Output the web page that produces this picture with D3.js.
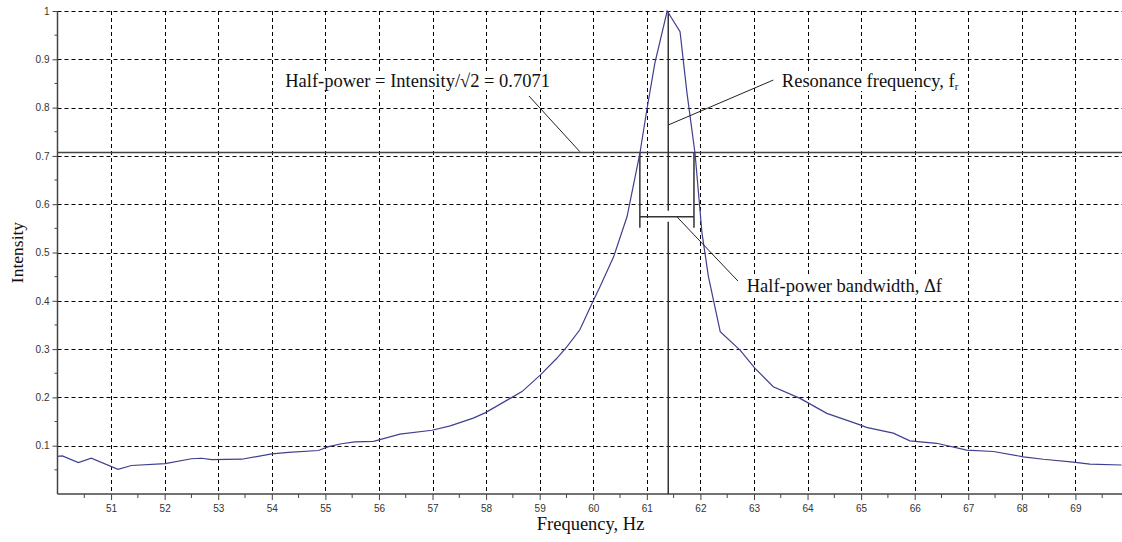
<!DOCTYPE html>
<html>
<head>
<meta charset="utf-8">
<script src="https://cdn.jsdelivr.net/npm/d3@7"></script>
<style>
  html, body { margin: 0; padding: 0; background: #fff; }
  svg { display: block; }
</style>
</head>
<body>
<svg id="chart" width="1122" height="542"></svg>
<script>
// ---- data ----
const frequency = [50.0, 50.09, 50.39, 50.63, 51.13, 51.38, 52.01, 52.5, 52.69, 52.88, 53.44, 54.0, 54.31, 54.87, 55.06, 55.3, 55.55, 55.9, 56.39, 56.99, 57.33, 57.76, 57.98, 58.45, 58.67, 59.01, 59.32, 59.51, 59.75, 60.0, 60.13, 60.38, 60.63, 60.87, 61.0, 61.15, 61.38, 61.62, 61.75, 61.9, 62.03, 62.15, 62.37, 62.74, 63.02, 63.36, 63.86, 64.36, 64.98, 65.1, 65.6, 65.91, 66.41, 66.97, 67.47, 68.03, 68.4, 68.96, 69.27, 69.86];
const intensity = [0.078, 0.079, 0.065, 0.074, 0.051, 0.059, 0.063, 0.073, 0.074, 0.071, 0.072, 0.083, 0.086, 0.090, 0.098, 0.104, 0.108, 0.109, 0.124, 0.132, 0.141, 0.157, 0.168, 0.198, 0.212, 0.246, 0.281, 0.305, 0.340, 0.400, 0.430, 0.491, 0.574, 0.705, 0.795, 0.892, 1.0, 0.957, 0.83, 0.705, 0.54, 0.45, 0.336, 0.298, 0.260, 0.222, 0.198, 0.167, 0.143, 0.138, 0.126, 0.110, 0.105, 0.091, 0.088, 0.077, 0.072, 0.066, 0.062, 0.060];
const xTicks = [51, 52, 53, 54, 55, 56, 57, 58, 59, 60, 61, 62, 63, 64, 65, 66, 67, 68, 69];
const yTicks = [0.1, 0.2, 0.3, 0.4, 0.5, 0.6, 0.7, 0.8, 0.9, 1];
const xMinor = [50.5, 51.5, 52.5, 53.5, 54.5, 55.5, 56.5, 57.5, 58.5, 59.5, 60.5, 61.5, 62.5, 63.5, 64.5, 65.5, 66.5, 67.5, 68.5, 69.5];
const yMinor = [0.05, 0.15, 0.25, 0.35, 0.45, 0.55, 0.65, 0.75, 0.85, 0.95];
const halfPower = 0.7071;
const resonanceFreq = 61.40;
const bandLeft = 60.87, bandRight = 61.88;
const bandBar = 0.574, bandBottom = 0.551;

// ---- layout ----
const svg = d3.select("#chart");
const W = 1122, H = 542;
const x = d3.scaleLinear().domain([50, 70]).range([57.5, 1129]);
const y = d3.scaleLinear().domain([0, 1]).range([494, 11]);
const x0 = x(50), xEnd = W;
const serif = "Liberation Serif, Times New Roman, serif";
const sans = "Liberation Sans, Arial, sans-serif";

// grid
const grid = svg.append("g").attr("stroke", "#000").attr("stroke-width", 1).attr("stroke-dasharray", "4,3");
grid.selectAll(".gx").data(xTicks).join("line")
  .attr("x1", d => Math.round(x(d)) + 0.5).attr("x2", d => Math.round(x(d)) + 0.5)
  .attr("y1", y(1)).attr("y2", y(0));
grid.selectAll(".gy").data(yTicks).join("line")
  .attr("x1", x0).attr("x2", xEnd)
  .attr("y1", d => Math.round(y(d)) + 0.5).attr("y2", d => Math.round(y(d)) + 0.5);

// axes
const xAxis = d3.axisBottom(x).tickValues(xTicks).tickFormat(d3.format("d")).tickSize(6).tickPadding(5);
const gx = svg.append("g").attr("transform", `translate(0,${y(0)})`).call(xAxis);
gx.select(".domain").remove();
gx.append("line").attr("x1", x0).attr("x2", xEnd).attr("stroke", "#444").attr("stroke-width", 1.5);
gx.selectAll(".tick line").attr("stroke", "#444");
gx.selectAll(".tick text").attr("font-family", sans).attr("font-size", 10).attr("fill", "#333");
gx.selectAll(".minor").data(xMinor).join("line").attr("class", "minor")
  .attr("x1", d => x(d)).attr("x2", d => x(d)).attr("y1", 0).attr("y2", 4).attr("stroke", "#444");

const yAxis = d3.axisLeft(y).tickValues(yTicks).tickFormat(d => d === 1 ? "1" : d3.format(".1f")(d)).tickSize(5).tickPadding(3);
const gy = svg.append("g").attr("transform", `translate(${x0},0)`).call(yAxis);
gy.select(".domain").remove();
gy.append("line").attr("y1", y(0)).attr("y2", y(1)).attr("stroke", "#444").attr("stroke-width", 1.5);
gy.selectAll(".tick line").attr("stroke", "#444");
gy.selectAll(".tick text").attr("font-family", sans).attr("font-size", 10).attr("fill", "#333");
gy.selectAll(".minor").data(yMinor).join("line").attr("class", "minor")
  .attr("x1", -3).attr("x2", 0).attr("y1", d => y(d)).attr("y2", d => y(d)).attr("stroke", "#444");

// axis titles
svg.append("text").attr("x", x(59.95)).attr("y", 530).attr("text-anchor", "middle")
  .attr("font-family", serif).attr("font-size", 18.5).attr("fill", "#111")
  .text("Frequency, Hz");
svg.append("text").attr("transform", `translate(23,${y(0.5)}) rotate(-90)`).attr("text-anchor", "middle")
  .attr("font-family", serif).attr("font-size", 17.5).attr("fill", "#111")
  .text("Intensity");

// half-power line
svg.append("line").attr("x1", x0).attr("x2", xEnd).attr("y1", y(halfPower)).attr("y2", y(halfPower))
  .attr("stroke", "#444").attr("stroke-width", 1.5);

// resonance vertical line (with gap at the band bar)
const ann = svg.append("g").attr("stroke", "#333").attr("stroke-width", 1.5);
ann.append("line").attr("x1", x(resonanceFreq)).attr("x2", x(resonanceFreq)).attr("y1", y(1)).attr("y2", y(bandBar) - 6);
ann.append("line").attr("x1", x(resonanceFreq)).attr("x2", x(resonanceFreq)).attr("y1", y(bandBar) + 5).attr("y2", y(0));
// bandwidth bracket
ann.append("line").attr("x1", x(bandLeft)).attr("x2", x(bandLeft)).attr("y1", y(halfPower)).attr("y2", y(bandBottom));
ann.append("line").attr("x1", x(bandRight)).attr("x2", x(bandRight)).attr("y1", y(halfPower)).attr("y2", y(bandBottom));
ann.append("line").attr("x1", x(bandLeft)).attr("x2", x(bandRight)).attr("y1", y(bandBar)).attr("y2", y(bandBar));

// curve
const line = d3.line().x((d, i) => x(frequency[i])).y(d => y(d));
svg.append("path").datum(intensity).attr("d", line)
  .attr("fill", "none").attr("stroke", "#3f3f8f").attr("stroke-width", 1.2);

// leader lines
const lead = svg.append("g").attr("stroke", "#222").attr("stroke-width", 1);
lead.append("line").attr("x1", x(58.8)).attr("y1", y(0.824)).attr("x2", x(59.75)).attr("y2", y(0.7087));
lead.append("line").attr("x1", x(63.36)).attr("y1", y(0.857)).attr("x2", x(61.40)).attr("y2", y(0.764));
lead.append("line").attr("x1", x(61.565)).attr("y1", y(0.5735)).attr("x2", x(62.70)).attr("y2", y(0.441));

// annotation labels with white backing
function label(xv, yv, build) {
  const g = svg.append("g");
  const bg = g.append("rect").attr("fill", "#fff");
  const t = g.append("text").attr("x", x(xv)).attr("y", y(yv)).attr("font-family", serif).attr("font-size", 18.5).attr("fill", "#111");
  build(t);
  const b = t.node().getBBox();
  bg.attr("x", b.x - 2).attr("y", b.y + 1).attr("width", b.width + 4).attr("height", b.height - 2);
}
label(54.25, 0.8427, t => t.text("Half-power = Intensity/\u221A2 = 0.7071"));
label(63.52, 0.8427, t => {
  t.append("tspan").text("Resonance frequency, f");
  t.append("tspan").attr("font-size", 11).attr("dy", 3).text("r");
});
label(62.865, 0.4182, t => t.text("Half-power bandwidth, \u0394f"));
</script>
</body>
</html>
